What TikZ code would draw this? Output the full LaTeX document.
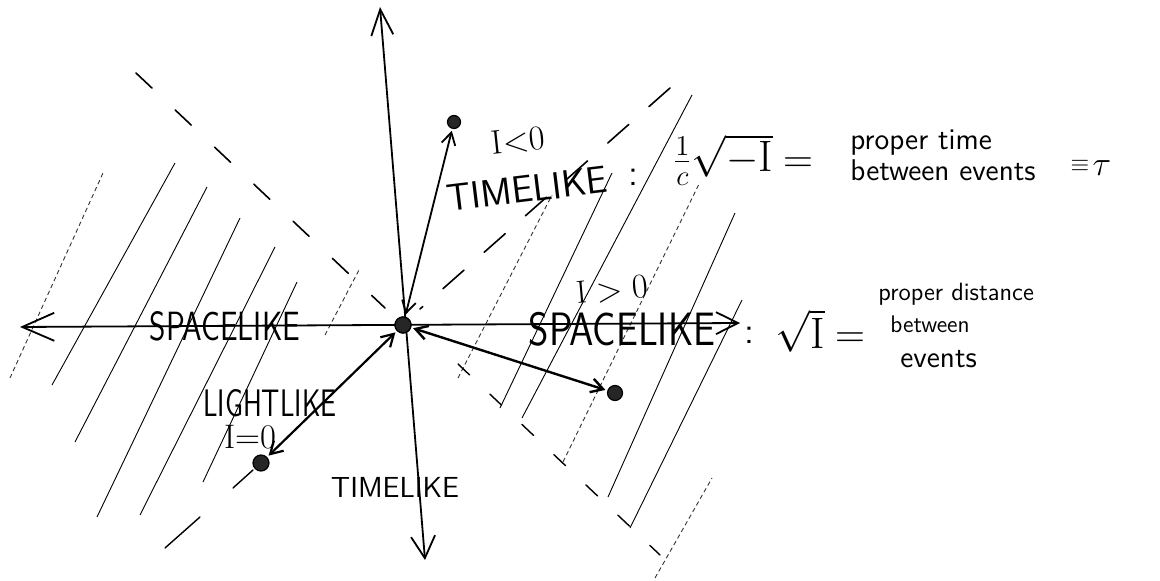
\documentclass[tikz,border=0pt]{standalone}
\usepackage{fontspec}
\usepackage{graphicx}
\usetikzlibrary{arrows.meta}
\tikzset{
  axisline/.style={line width=0.9pt, line cap=round},
  hatchline/.style={line width=0.45pt},
  hatchdots/.style={line width=0.45pt, dash pattern=on 2.2pt off 1.6pt, black!80},
  coneul/.style={line width=0.8pt, line cap=round, dash pattern=on 11pt off 16pt},
  coneur/.style={line width=0.8pt, line cap=round, dash pattern=on 14pt off 13.5pt},
  conelow/.style={line width=0.7pt, line cap=round, dash pattern=on 8pt off 14pt},
  evt/.style={circle, fill=black!85, draw=black, line width=0.6pt, inner sep=0pt, minimum size=#1},
  evt/.default=7pt,
  dblarrow/.style={line width=0.9pt, line cap=round,
    {Straight Barb[length=6pt,width=7pt]}-{Straight Barb[length=6pt,width=7pt]},
    shorten <=1pt, shorten >=1pt},
  lbl/.style={inner sep=0pt, font=\sffamily},
  mlbl/.style={inner sep=0pt},
}
\begin{document}
\begin{tikzpicture}[x=0.5pt,y=-0.5pt]
\useasboundingbox (0,0) rectangle (1160,581);

% ---------- hatching of the spacelike regions ----------
\draw[hatchdots] (10,378) -- (103,173);
\draw[hatchline] (52,385) -- (175,163);
\draw[hatchline] (75,442) -- (207,187);
\draw[hatchline] (97,517) -- (240,218);
\draw[hatchline] (140,515) -- (275,247);
\draw[hatchline] (203,482) -- (297,282);
\draw[hatchdots] (325,335) -- (360,268);
\draw[hatchdots] (458,378) -- (552,195);
\draw[hatchline] (500,408) -- (612,173);
\draw[hatchline] (522,418) -- (692,95);
\draw[hatchdots] (563,462) -- (700,182);
\draw[hatchline] (608,497) -- (735,213);
\draw[hatchline] (630,528) -- (742,300);
\draw[hatchdots] (655,578) -- (712,478);

% ---------- events ----------
\node[evt=8pt] (O) at (403,325) {};
\node[evt=6.5pt] (E1) at (454,122) {};
\node[evt=7.5pt] (E2) at (615,393) {};
\node[evt=8pt] (E3) at (261,463) {};

% ---------- light cone ----------
\coordinate (ul) at (136,73);
\coordinate (ulo) at (385,308);
\coordinate (ur) at (670,88);
\coordinate (uro) at (420,309);
\coordinate (lr) at (660,555);
\coordinate (lro) at (458,364);
\coordinate (ll1a) at (253,470);
\coordinate (ll1b) at (233,488);
\coordinate (ll2a) at (200,517);
\coordinate (ll2b) at (165,548);
\draw[coneul] (ul) -- (ulo);
\draw[coneur] (ur) -- (uro);
\draw[conelow] (lro) -- (lr);
\draw[line width=0.7pt, line cap=round] (ll1a) -- (ll1b);
\draw[line width=0.7pt, line cap=round] (ll2a) -- (ll2b);

% ---------- axes ----------
\coordinate (ytop) at (380,7);
\coordinate (ybot) at (425,560);
\coordinate (xl) at (20,327);
\coordinate (xr) at (740,323);
\draw[axisline, {Straight Barb[length=11pt,width=12pt]}-{Straight Barb[length=13pt,width=11pt]}] (ybot) -- (ytop);
\draw[axisline, {Straight Barb[length=16pt,width=14pt]}-{Straight Barb[length=11pt,width=11pt]}] (xl) -- (xr);
\node[evt=8pt] at (O) {};

% ---------- intervals ----------
\draw[dblarrow] (O) -- (E1);
\draw[dblarrow, line width=1.2pt] (O) -- (E2);
\draw[dblarrow, line width=1.1pt] (O) -- (E3);

% ---------- labels ----------
\node[mlbl, rotate=6] (ilt) at (518,141) {\fontsize{17}{17}\selectfont $\mathrm{I}{<}0$};
\node[lbl, rotate=7] (tl) at (527,189) {\fontsize{19}{19}\selectfont TIMELIKE};
\node[lbl] (tc) at (633,177) {\fontsize{19}{19}\selectfont :};
\node[mlbl] (tf) at (723,160) {\fontsize{22}{22}\selectfont $\frac{1}{c}\sqrt{-\mathrm{I}}$};
\node[mlbl] (teq) at (798,165) {\fontsize{20}{20}\selectfont $=$};
\node[lbl, anchor=base west] (pt1) at (850,150) {\fontsize{15}{15}\selectfont proper time};
\node[lbl, anchor=base west] (pt2) at (850,181) {\fontsize{15}{15}\selectfont between events};
\node[mlbl] (equ) at (1080,166) {\fontsize{12}{12}\selectfont $\equiv$};
\node[mlbl] (tau) at (1102,168) {\fontsize{18}{18}\selectfont $\tau$};

\node[lbl] (sl) at (225,326) {\fontsize{15.7}{15.7}\selectfont\scalebox{1}[1.3]{SPACELIKE}};
\node[mlbl, rotate=5] (igt) at (612,290) {\fontsize{16}{16}\selectfont $\mathrm{I}>0$};
\node[lbl] (sr) at (622,329) {\fontsize{19.5}{19.5}\selectfont\scalebox{1}[1.2]{SPACELIKE}};
\node[lbl] (sc) at (749,335) {\fontsize{19}{19}\selectfont :};
\node[mlbl] (sq) at (800,331) {\fontsize{22}{22}\selectfont $\sqrt{\mathrm{I}}$};
\node[mlbl] (seq) at (850,340) {\fontsize{20}{20}\selectfont $=$};
\node[lbl, anchor=base west] (pd1) at (878,301) {\fontsize{12.5}{12.5}\selectfont proper distance};
\node[lbl, anchor=base west] (pd2) at (890,333) {\fontsize{12}{12}\selectfont between};
\node[lbl, anchor=base west] (pd3) at (900,368) {\fontsize{15}{15}\selectfont events};

\node[lbl] (ll) at (270,403) {\fontsize{13.7}{13.7}\selectfont\scalebox{1}[1.4]{LIGHTLIKE}};
\node[mlbl] (ieq) at (250,437) {\fontsize{17}{17}\selectfont $\mathrm{I}{=}0$};
\node[lbl] (tb) at (395,487) {\fontsize{14.5}{14.5}\selectfont TIMELIKE};
\end{tikzpicture}
\end{document}
